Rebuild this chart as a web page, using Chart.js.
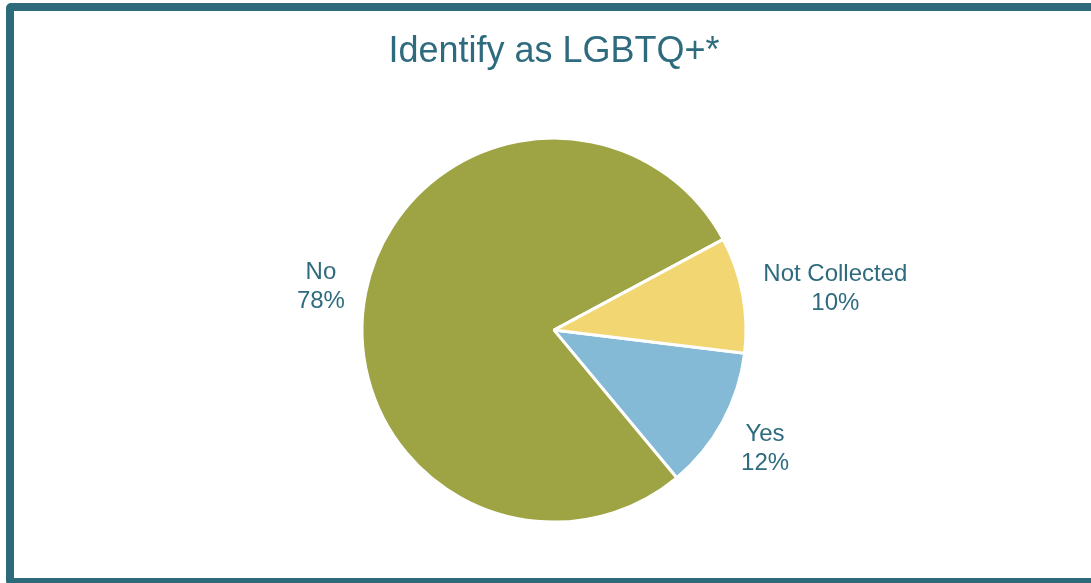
<!DOCTYPE html>
<html>
<head>
<meta charset="utf-8">
<script src="https://cdn.jsdelivr.net/npm/chart.js@4"></script>
<style>
  html, body { margin: 0; padding: 0; background: #ffffff; width: 1091px; height: 583px; overflow: hidden; }
  #frame { position: absolute; left: 6px; top: 3px; width: 1100px; height: 583px; box-sizing: border-box;
           border: 8px solid #2D6A7C; border-radius: 5px; }
  #wrap { position: absolute; left: 0; top: 0; width: 1091px; height: 600px; }
</style>
</head>
<body>
<div id="frame"></div>
<div id="wrap"><canvas id="c" width="1091" height="600"></canvas></div>
<script>
const titleText = "Identify as LGBTQ+*";
const categories = ["Yes", "No", "Not Collected"];
const percentages = [12.05, 78.2, 9.75];
const sliceColors = ["#85BAD6", "#9EA443", "#F2D672"];
const textColor = "#2E6B7E";

const outsideLabels = {
  id: "outsideLabels",
  afterDatasetsDraw(chart) {
    const ctx = chart.ctx;
    const meta = chart.getDatasetMeta(0);
    const fontSize = 24;
    const lineH = 29;
    ctx.save();
    ctx.font = fontSize + "px 'Liberation Sans', Arial, sans-serif";
    ctx.fillStyle = textColor;
    ctx.textAlign = "center";
    ctx.textBaseline = "middle";
    meta.data.forEach((arc, i) => {
      const p = arc.getProps(["x", "y", "startAngle", "endAngle", "outerRadius"], true);
      const mid = (p.startAngle + p.endAngle) / 2;
      const lines = [categories[i], Math.round(percentages[i]) + "%"];
      const w = Math.max(...lines.map(l => ctx.measureText(l).width)) / 2;
      const h = lineH;
      const c = Math.cos(mid), s = Math.sin(mid);
      const R = p.outerRadius + 21;
      const cx = p.x + R * c + w * Math.sign(c);
      const cy = p.y + R * s + h * s + 3;
      ctx.fillText(lines[0], cx, cy - lineH / 2);
      ctx.fillText(lines[1], cx, cy + lineH / 2);
    });
    ctx.restore();
  }
};

new Chart(document.getElementById("c"), {
  type: "pie",
  data: {
    labels: categories,
    datasets: [{
      data: percentages,
      backgroundColor: sliceColors,
      borderColor: "#ffffff",
      borderWidth: 3,
      radius: 192
    }]
  },
  options: {
    responsive: false,
    animation: false,
    rotation: 96.9,
    layout: { padding: { left: 17, right: 0, top: 0, bottom: 13 } },
    plugins: {
      legend: { display: false },
      tooltip: { enabled: false },
      title: {
        display: true,
        text: titleText,
        color: textColor,
        font: { family: "'Liberation Sans', Arial, sans-serif", size: 36, weight: "normal", lineHeight: 1.2 },
        padding: { top: 30, bottom: 0 }
      }
    }
  },
  plugins: [outsideLabels]
});
</script>
</body>
</html>
